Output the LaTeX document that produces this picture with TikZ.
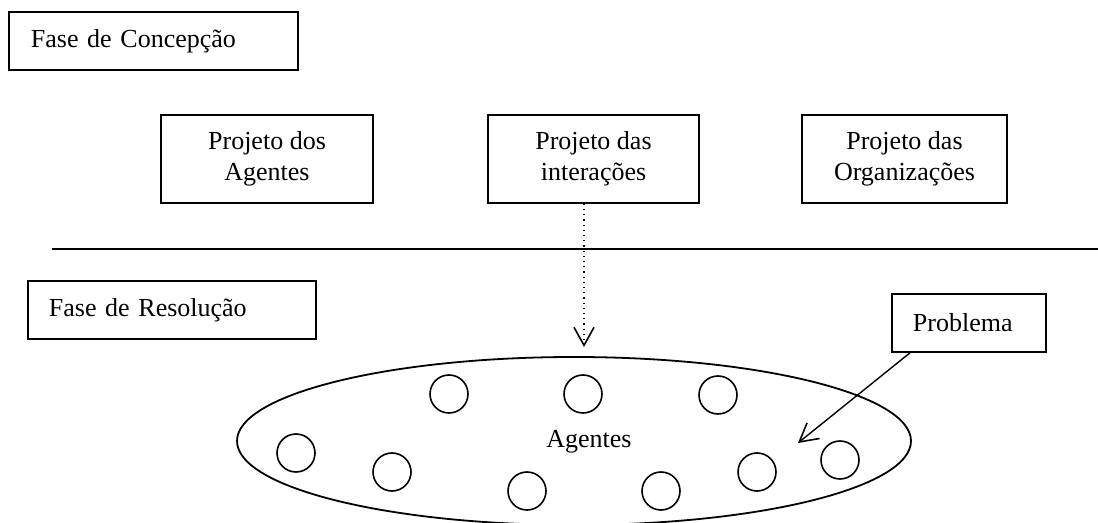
\documentclass[tikz,border=0pt]{standalone}
\usepackage{fontspec}
\setmainfont{Liberation Serif}
\usetikzlibrary{arrows.meta}

\tikzset{
  caixa/.style={draw, line width=0.9pt, rectangle, minimum height=44pt, align=center, inner sep=0pt},
  fase/.style={draw, line width=0.9pt, rectangle, anchor=north west, minimum height=29pt, align=left, inner ysep=0pt},
  agente/.style={draw, circle, line width=0.8pt, minimum size=19pt, inner sep=0pt},
  ponta/.style={-{Straight Barb[length=9pt, width=10pt, line width=0.8pt]}}
}

\begin{document}
\begin{tikzpicture}[x=0.5pt, y=-0.5pt, font=\fontsize{13}{15.5}\selectfont]
    \useasboundingbox (0,0) rectangle (1098,523);

    % fase de concepcao
    \node[fase, inner xsep=11pt, text width=122.5pt] (concepcao) at (8,11) {Fase de Concepção};
    \node[caixa, minimum width=106pt] (agentes) at (267,159) {Projeto dos\\Agentes};
    \node[caixa, minimum width=105.5pt] (interacoes) at (593.5,159) {Projeto das\\interações};
    \node[caixa, minimum width=102.5pt] (organizacoes) at (904.5,159) {Projeto das\\Organizações};

    \draw [line width=0.9pt] (52,249) -- (1098,249);

    % fase de resolucao
    \node[fase, inner xsep=10.5pt, text width=123pt] (resolucao) at (27,280) {Fase de Resolução};
    \node[fase, inner xsep=10.5pt, text width=56pt] (problema) at (891,293) {Problema};

    \draw [line width=0.9pt] (574,441) ellipse [x radius=168.5pt, y radius=42pt];
    \node (rotulo) at (589,442) {Agentes};

    \begin{scope}[every node/.style={agente}]
      \foreach \px/\py [count=\i] in {449/394, 583/394, 718/395, 296/453, 392/472,
                                       527/491, 661/491, 757/472, 840/460}{
        \node (a\i) at (\px,\py) {};
      }
    \end{scope}

    \coordinate (alvo) at (584,347);
    \coordinate (meio) at (798,443);
    \draw [ponta, dotted, line width=0.6pt] (interacoes.south -| alvo) -- (alvo);
    \draw [ponta, line width=0.7pt] ([xshift=9.5pt]problema.south west) -- (meio);
  \end{tikzpicture}
\end{document}
